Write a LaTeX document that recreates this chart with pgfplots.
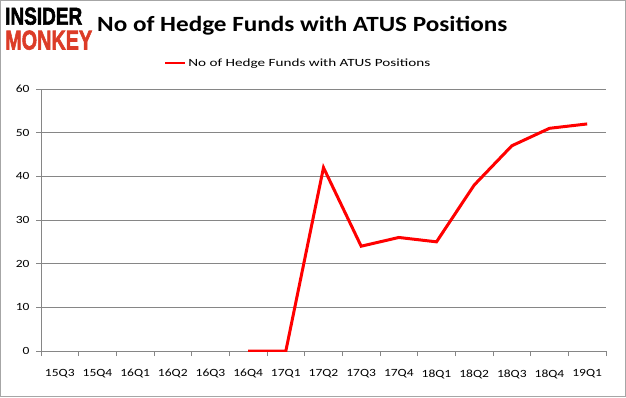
\documentclass[border=0pt]{standalone}
\usepackage{pgfplots}
\pgfplotsset{compat=1.18}
\usepackage{fontspec}
\setmainfont{Carlito}
\newfontfamily\tickfont[FakeStretch=1.23]{Carlito}
\newfontfamily\legfont[FakeStretch=1.38]{Carlito}
\newfontfamily\titlefont[FakeStretch=1.16]{Carlito}
\newfontfamily\logofont[FakeBold=2.5]{Liberation Sans}
\definecolor{gridgray}{RGB}{134,134,134}
\definecolor{logored}{RGB}{220,60,40}
\begin{document}
\begin{tikzpicture}[x=1pt,y=1pt]
\draw[gray!70,line width=1pt] (0.5,0.5) rectangle (625.5,396.5);
\node[anchor=south west,inner sep=0pt] at (5,372) {\resizebox{77pt}{17pt}{\logofont\bfseries INSIDER}};
\node[anchor=south west,inner sep=0pt] at (5,347) {\resizebox{87pt}{19pt}{\logofont\bfseries\color{logored}MONKEY}};
\node[anchor=west,inner sep=0pt] at (97,371) {\titlefont\fontsize{21.7}{25}\selectfont\bfseries No of Hedge Funds with ATUS Positions};
\begin{axis}[
  at={(41pt,46pt)}, anchor=south west,
  scale only axis, width=565pt, height=262pt,
  xmin=-0.5, xmax=14.5, ymin=0, ymax=60,
  axis x line*=bottom, axis y line*=left,
  axis line style={gridgray, line width=0.8pt},
  xtick={0,...,14},
  xticklabels={15Q3,15Q4,16Q1,16Q2,16Q3,16Q4,17Q1,17Q2,17Q3,17Q4,18Q1,18Q2,18Q3,18Q4,19Q1},
  minor xtick={-0.5,0.5,...,14.5},
  major x tick style={draw=none},
  minor x tick style={gridgray, line width=0.8pt},
  minor tick length=5pt,
  ytick={0,10,...,60},
  ytick style={gridgray, line width=0.8pt},
  major tick length=5pt,
  tick align=outside,
  ymajorgrids, grid style={gridgray, line width=0.8pt},
  tick label style={font=\tickfont\fontsize{11}{13}\selectfont, text=black},
  xticklabel style={yshift=-10pt},
  yticklabel style={xshift=-3pt},
  /pgf/number format/assume math mode=true,
  legend style={at={(0.455,1.099)}, anchor=center, draw=none, fill=none, font=\legfont\fontsize{11}{13}\selectfont},
  legend image code/.code={\draw[red, line width=2.5pt] (0pt,0pt) -- (20pt,0pt);},
]
\addplot[red, line width=3pt] coordinates {
(5,0) (6,0) (7,42) (8,24) (9,26) (10,25) (11,38) (12,47) (13,51) (14,52)
};
\addlegendentry{No of Hedge Funds with ATUS Positions}
\end{axis}
\end{tikzpicture}
\end{document}
